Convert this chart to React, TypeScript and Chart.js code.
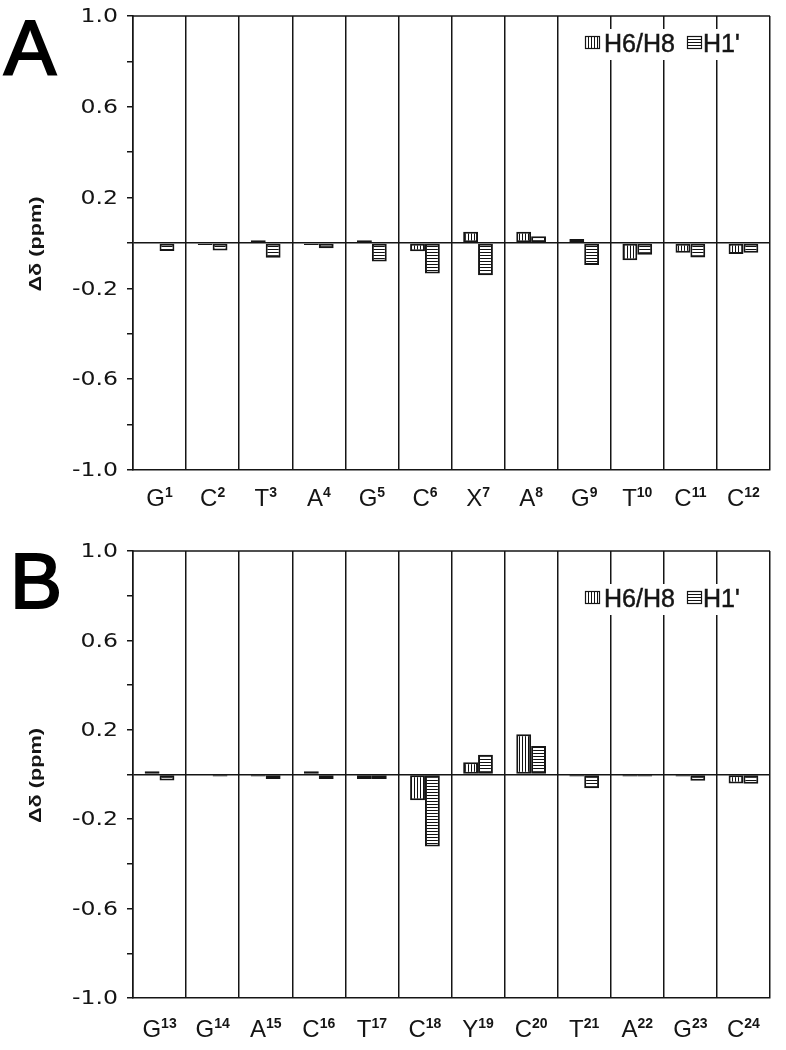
import React, { useEffect, useRef } from 'react';
import { Chart, registerables } from 'chart.js';
Chart.register(...registerables);

// ---------- data ----------
const basesA = ['G', 'C', 'T', 'A', 'G', 'C', 'X', 'A', 'G', 'T', 'C', 'C'];
const numsA = ['1', '2', '3', '4', '5', '6', '7', '8', '9', '10', '11', '12'];
const h6h8A = [null, -0.005, 0.012, -0.005, 0.012, -0.036, 0.05, 0.05, 0.018, -0.076, -0.043, -0.048];
const h1A = [-0.035, -0.033, -0.065, -0.023, -0.082, -0.134, -0.142, 0.03, -0.097, -0.052, -0.064, -0.043];

const basesB = ['G', 'G', 'A', 'C', 'T', 'C', 'Y', 'C', 'T', 'A', 'G', 'C'];
const numsB = ['13', '14', '15', '16', '17', '18', '19', '20', '21', '22', '23', '24'];
const h6h8B = [0.014, null, -0.004, 0.014, -0.02, -0.115, 0.055, 0.18, -0.004, -0.005, -0.004, -0.04];
const h1B = [-0.027, -0.006, -0.02, -0.02, -0.02, -0.322, 0.088, 0.127, -0.062, -0.005, -0.028, -0.041];

const seriesNames = ['H6/H8', "H1'"];
const yLabelValues = [1.0, 0.6, 0.2, -0.2, -0.6, -1.0];
const yTitle = 'Δδ (ppm)';

const FONT = '"Liberation Sans", Arial, Helvetica, sans-serif';
const TICKFONT = '"DejaVu Sans", "Liberation Sans", sans-serif';
const INK = '#151515';

function makePattern(dir: 'v' | 'h'): CanvasPattern {
  const c = document.createElement('canvas');
  c.width = 3;
  c.height = 3;
  const g = c.getContext('2d')!;
  g.fillStyle = '#fff';
  g.fillRect(0, 0, 3, 3);
  g.fillStyle = '#111';
  if (dir === 'v') g.fillRect(0, 0, 1, 3);
  else g.fillRect(0, 0, 3, 1);
  return g.createPattern(c, 'repeat')!;
}

type PanelProps = {
  letter: string;
  bases: string[];
  nums: string[];
  h6: (number | null)[];
  h1: (number | null)[];
  padTop: number;
  xHeight: number;
  labelDy: number;
  legendDy: number;
  letterX: number;
  letterBase: number;
};

function Panel(p: PanelProps) {
  const ref = useRef<HTMLCanvasElement | null>(null);
  useEffect(() => {
    const canvas = ref.current!;
    const vPat = makePattern('v');
    const hPat = makePattern('h');

    const deco = {
      id: 'deco',
      afterDraw(chart: any) {
        const { ctx, chartArea: a, scales } = chart;
        ctx.save();
        // top border
        ctx.strokeStyle = INK;
        ctx.lineWidth = 1.5;
        ctx.beginPath();
        ctx.moveTo(a.left, a.top);
        ctx.lineTo(a.right, a.top);
        ctx.stroke();

        // y tick labels
        ctx.fillStyle = INK;
        ctx.font = `20px ${TICKFONT}`;
        ctx.textAlign = 'right';
        ctx.textBaseline = 'middle';
        for (const v of yLabelValues) {
          const y = scales.y.getPixelForValue(v);
          ctx.save();
          ctx.translate(a.left - 15, y + 1);
          ctx.scale(1.18, 1);
          ctx.fillText(v.toFixed(1), 0, 0);
          ctx.restore();
        }

        // x category labels with superscripts
        ctx.textAlign = 'left';
        ctx.textBaseline = 'alphabetic';
        for (let i = 0; i < p.bases.length; i++) {
          const x = scales.x.getPixelForValue(i);
          ctx.font = `24px ${FONT}`;
          const wb = ctx.measureText(p.bases[i]).width;
          ctx.font = `bold 14px ${FONT}`;
          const ws = ctx.measureText(p.nums[i]).width;
          const start = x - (wb + ws) / 2;
          const base = a.bottom + p.labelDy;
          ctx.font = `24px ${FONT}`;
          ctx.fillText(p.bases[i], start, base);
          ctx.font = `bold 14px ${FONT}`;
          ctx.fillText(p.nums[i], start + wb, base - 9);
        }

        // y title
        ctx.font = `bold 16px ${FONT}`;
        const tw = ctx.measureText(yTitle).width;
        ctx.save();
        ctx.translate(37, (a.top + a.bottom) / 2 + 1);
        ctx.rotate(-Math.PI / 2);
        ctx.scale(95 / tw, 1);
        ctx.textAlign = 'center';
        ctx.textBaseline = 'middle';
        ctx.fillText(yTitle, 0, 0);
        ctx.restore();

        // panel letter
        ctx.font = `78px ${FONT}`;
        ctx.textAlign = 'left';
        ctx.lineWidth = 2.2;
        ctx.strokeStyle = '#000';
        ctx.fillStyle = '#000';
        ctx.fillText(p.letter, p.letterX, p.letterBase);
        ctx.strokeText(p.letter, p.letterX, p.letterBase);

        // legend
        const ly = a.top + p.legendDy;
        ctx.fillStyle = '#fff';
        ctx.fillRect(a.right - 191, ly - 7, 172, 31);
        const boxes = [
          { x: a.right - 185, pat: vPat, tx: a.right - 166, label: seriesNames[0] },
          { x: a.right - 83, pat: hPat, tx: a.right - 67, label: seriesNames[1] },
        ];
        ctx.font = `25px ${FONT}`;
        ctx.textBaseline = 'alphabetic';
        for (const b of boxes) {
          ctx.fillStyle = b.pat;
          ctx.fillRect(b.x, ly, 15, 13);
          ctx.strokeStyle = INK;
          ctx.lineWidth = 1.2;
          ctx.strokeRect(b.x + 0.5, ly + 0.5, 14, 12);
          ctx.fillStyle = INK;
          ctx.fillText(b.label, b.tx, ly + 16);
          ctx.lineWidth = 0.5;
          ctx.strokeText(b.label, b.tx, ly + 16);
        }
        ctx.restore();
      },
    };

    const chart = new Chart(canvas, {
      type: 'bar',
      data: {
        labels: p.bases.map((b, i) => b + p.nums[i]),
        datasets: [
          {
            label: seriesNames[0],
            data: p.h6 as any,
            backgroundColor: vPat as any,
            borderColor: INK,
            borderWidth: 2,
            borderSkipped: false,
            minBarLength: 2,
          },
          {
            label: seriesNames[1],
            data: p.h1 as any,
            backgroundColor: hPat as any,
            borderColor: INK,
            borderWidth: 2,
            borderSkipped: false,
            minBarLength: 2,
          },
        ],
      },
      options: {
        responsive: false,
        animation: false,
        maintainAspectRatio: false,
        layout: { padding: { left: 0, right: 16, top: p.padTop, bottom: 0 } },
        datasets: { bar: { categoryPercentage: 0.56, barPercentage: 1.0 } },
        plugins: { legend: { display: false }, tooltip: { enabled: false } },
        scales: {
          x: {
            offset: true,
            ticks: { display: false },
            grid: { offset: true, color: INK, lineWidth: 1.5, drawTicks: false },
            border: { display: true, color: INK, width: 1.5 },
            afterFit: (s: any) => {
              s.height = p.xHeight;
            },
          },
          y: {
            min: -1,
            max: 1,
            ticks: { display: false, stepSize: 0.2 },
            grid: {
              color: (c: any) => (c.tick && Math.abs(c.tick.value) < 1e-9 ? INK : 'rgba(0,0,0,0)'),
              lineWidth: 1.5,
              tickColor: INK,
              tickLength: 6,
              drawTicks: true,
            },
            border: { display: true, color: INK, width: 1.5 },
            afterFit: (s: any) => {
              s.width = 133;
            },
          },
        },
      },
      plugins: [deco],
    });
    return () => chart.destroy();
  }, []);
  return <canvas ref={ref} width={786} height={525} style={{ display: 'block', width: 786, height: 525 }} />;
}

export default function App() {
  return (
    <div style={{ position: 'absolute', left: 0, top: 0, width: 786, height: 1050, background: '#fff' }}>
      <Panel
        letter="A"
        bases={basesA}
        nums={numsA}
        h6={h6h8A}
        h1={h1A}
        padTop={16}
        xHeight={55}
        labelDy={36}
        legendDy={20}
        letterX={4}
        letterBase={75}
      />
      <Panel
        letter="B"
        bases={basesB}
        nums={numsB}
        h6={h6h8B}
        h1={h1B}
        padTop={26}
        xHeight={52}
        labelDy={39}
        legendDy={40}
        letterX={10}
        letterBase={83}
      />
    </div>
  );
}
